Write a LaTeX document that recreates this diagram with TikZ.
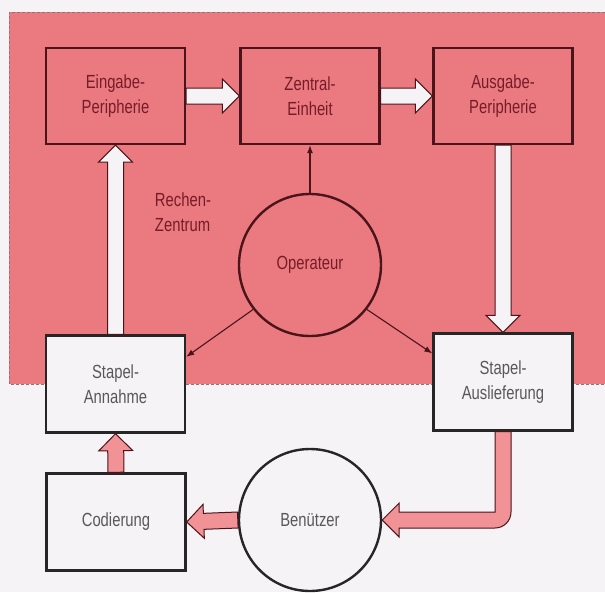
\documentclass[tikz,border=0pt]{standalone}
\usepackage{fontspec}
\setmainfont{Liberation Sans}[FakeStretch=0.78]
\usetikzlibrary{arrows.meta, calc, positioning}

\definecolor{rzpink}{RGB}{234,122,128}
\definecolor{rzline}{RGB}{74,20,26}
\definecolor{rztext}{RGB}{118,28,40}
\definecolor{paper}{RGB}{245,243,245}
\definecolor{greytext}{RGB}{88,88,90}
\definecolor{arrowpink}{RGB}{240,146,150}

\begin{document}
\begin{tikzpicture}[
        x=1pt, y=-1pt,
        every node/.style={font=\fontsize{19}{25}\selectfont, align=center},
        pbox/.style={rectangle, draw=rzline, line width=2.4pt, fill=rzpink, text=rztext, minimum width=139pt, minimum height=96pt},
        wbox/.style={rectangle, draw=black!85, line width=2.4pt, fill=paper, text=greytext, minimum width=139pt, minimum height=97pt},
        pcirc/.style={circle, draw=rzline, line width=2.4pt, fill=rzpink, text=rztext, minimum size=142pt},
        wcirc/.style={circle, draw=black!85, line width=2.4pt, fill=paper, text=greytext, minimum size=142pt},
        arrow/.style={-{Latex[length=8pt, width=6pt]}, line width=1.1pt, draw=rzline},
        blockarrow/.style={fill=#1, draw=rzline, line width=1pt, line join=miter,
            to path={let \p1=(\tikztostart), \p2=(\tikztotarget), \p3=($(\p2)!17pt!(\p1)$) in
                ($(\p1)!8pt!90:(\p2)$) -- ($(\p3)!8pt!90:(\p2)$) -- ($(\p3)!17pt!90:(\p2)$) -- (\p2)
                -- ($(\p3)!17pt!-90:(\p2)$) -- ($(\p3)!8pt!-90:(\p2)$) -- ($(\p1)!8pt!-90:(\p2)$) -- cycle}}
    ]
        \useasboundingbox (0,0) rectangle (605,592);
        \fill[paper] (0,0) rectangle (605,592);

        % Rechenzentrum
        \fill[rzpink] (9,12) rectangle (605,384);
        \draw[rzline!60, line width=0.8pt, dash pattern=on 3pt off 2pt] (605,12) -- (9,12) -- (9,384) -- (605,384);
        \node[text=rztext, align=left] (rz) at (183,212) {Rechen-\\Zentrum};

        \foreach \n/\x/\t in {eing/115.5/Eingabe-\\Peripherie, zent/310/Zentral-\\Einheit, ausg/503/Ausgabe-\\Peripherie} {
            \node[pbox] (\n) at (\x,96) {\t};
        }
        \node[pcirc] (oper) at (310,265) {Operateur};

        % Stapel
        \node[wbox] (annahme) at (115.5,384) {Stapel-\\Annahme};
        \node[wbox] (ausl) at (503,382) {Stapel-\\Auslieferung};

        % Benuetzer
        \node[wbox] (cod) at (116,522) {Codierung};
        \node[wcirc] (benu) at (310,520) {Benützer};

        % Datenfluss
        \draw[blockarrow=paper] (eing.east) to (zent.west);
        \draw[blockarrow=paper] (zent.east) to (ausg.west);
        \draw[blockarrow=paper] (annahme.north) to (eing.south);
        \draw[blockarrow=paper] (ausg.south) to (ausl.north);
        \draw[blockarrow=arrowpink] (cod.north) to (annahme.south);
        \draw[blockarrow=arrowpink] (benu.west) to (cod.east);

        \coordinate (bendpt) at (ausl.south |- benu.east);
        \filldraw[fill=arrowpink, draw=rzline, line width=1pt, line join=miter]
            ($(ausl.south)+(-8,0)$) -- ($(bendpt)+(-8,-8)$) -- ($(benu.east)+(17,-8)$) -- ($(benu.east)+(17,-17)$)
            -- (benu.east) -- ($(benu.east)+(17,17)$) -- ($(benu.east)+(17,8)$) -- ($(bendpt)+(-8,8)$)
            arc[start angle=90, end angle=0, radius=16] -- ($(ausl.south)+(8,0)$) -- cycle;

        % Operateur
        \draw[arrow] (oper.north) -- (zent.south);
        \draw[arrow] (oper.218) -- (annahme.21);
        \draw[arrow] (oper.322) -- (ausl.158);
    \end{tikzpicture}
\end{document}
